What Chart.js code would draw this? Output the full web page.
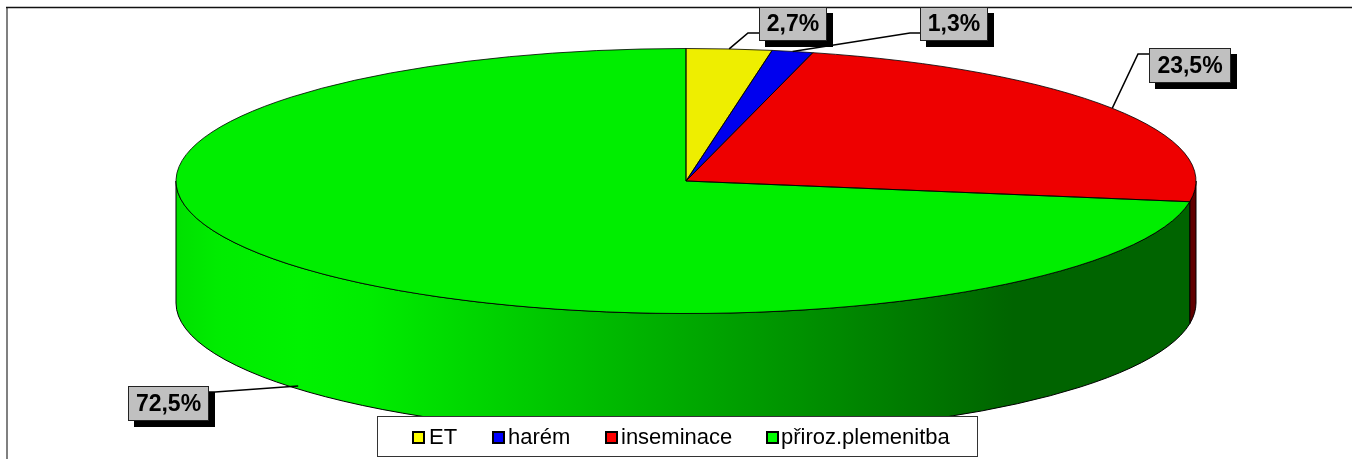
<!DOCTYPE html>
<html lang="cs">
<head>
    <meta charset="UTF-8">
    <title>Graf</title>
    <style>
        html, body { margin: 0; padding: 0; background: #fff; overflow: hidden; }
        canvas { display: block; }
    </style>
    <script src="https://cdn.jsdelivr.net/npm/chart.js"></script>
</head>
<body>
    <canvas id="myChart" width="1352" height="459"></canvas>

    <script>
// data
const categories = ["ET", "harém", "inseminace", "přiroz.plemenitba"];
const values = [2.7, 1.3, 23.5, 72.5];
const sliceColors = ["#EEEE00", "#0000EE", "#EE0000", "#00EE00"];
const legendColors = ["#FFFF00", "#0000FF", "#FF0000", "#00FF00"];

// pie geometry
const radiusX = 510;
const squash = 132.5 / 510;
const depth = 122;

// data label boxes and their leader lines, same order as categories
const labelBoxes = [
    { x: 759, y: 7, w: 68, h: 34 },
    { x: 920, y: 7, w: 68, h: 34 },
    { x: 1149, y: 48, w: 82, h: 35 },
    { x: 128, y: 386, w: 81, h: 35 }
];
const labelElbows = [
    [748, 33],
    [910, 33],
    [1138, 54],
    [215, 392]
];

// legend
const legendBox = { x: 377, y: 416, w: 601, h: 41 };
const legendSwatchX = [412, 492, 605, 766];
const legendTextX = [429, 508, 621, 781];

function wallColor(ctx, index) {
    if (index === 2) return "#600000";
    if (index !== 3) return sliceColors[index];
    const grad = ctx.createLinearGradient(176, 0, 1197, 0);
    grad.addColorStop(0, "#00E000");
    grad.addColorStop(0.04, "#00EC00");
    grad.addColorStop(0.12, "#00F200");
    grad.addColorStop(0.19, "#00EC00");
    grad.addColorStop(0.82, "#006400");
    grad.addColorStop(1, "#006400");
    return grad;
}

// squashes the library's arcs into an ellipse and adds the side wall
const pie3d = {
    id: "pie3d",
    beforeDatasetsDraw(chart) {
        const ctx = chart.ctx;
        const arcs = chart.getDatasetMeta(0).data;
        arcs.forEach((arc, i) => {
            const start = Math.max(arc.startAngle, 0);
            const end = Math.min(arc.endAngle, Math.PI);
            if (end <= start) return;
            const ry = arc.outerRadius * squash;
            ctx.beginPath();
            ctx.ellipse(arc.x, arc.y, arc.outerRadius, ry, 0, start, end);
            ctx.ellipse(arc.x, arc.y + depth, arc.outerRadius, ry, 0, end, start, true);
            ctx.closePath();
            ctx.fillStyle = wallColor(ctx, i);
            ctx.fill();
            ctx.lineWidth = 1;
            ctx.strokeStyle = "#000";
            ctx.stroke();
        });
        const first = arcs[0];
        ctx.save();
        ctx.translate(first.x, first.y);
        ctx.scale(1, squash);
        ctx.translate(-first.x, -first.y);
    },
    afterDatasetsDraw(chart) {
        const ctx = chart.ctx;
        ctx.restore();
        const arcs = chart.getDatasetMeta(0).data;
        arcs.forEach((arc) => {
            const ry = arc.outerRadius * squash;
            ctx.beginPath();
            ctx.moveTo(arc.x, arc.y);
            ctx.ellipse(arc.x, arc.y, arc.outerRadius, ry, 0, arc.startAngle, arc.endAngle);
            ctx.closePath();
            ctx.lineWidth = 1;
            ctx.strokeStyle = "rgba(0,0,0,0.8)";
            ctx.stroke();
        });
    }
};

const labelsAndLegend = {
    id: "labelsAndLegend",
    beforeDraw(chart) {
        const ctx = chart.ctx;
        ctx.fillStyle = "#fff";
        ctx.fillRect(0, 0, chart.width, chart.height);
        // outer frame, only top and left show in the picture
        ctx.strokeStyle = "#808080";
        ctx.lineWidth = 2;
        ctx.beginPath();
        ctx.moveTo(7, 459);
        ctx.lineTo(7, 7);
        ctx.stroke();
        ctx.strokeStyle = "#111";
        ctx.lineWidth = 1.5;
        ctx.beginPath();
        ctx.moveTo(6, 7.5);
        ctx.lineTo(1352, 7.5);
        ctx.stroke();
    },
    afterDraw(chart) {
        const ctx = chart.ctx;
        const arcs = chart.getDatasetMeta(0).data;

        // leader lines start in the middle of each slice's rim
        arcs.forEach((arc, i) => {
            const mid = (arc.startAngle + arc.endAngle) / 2;
            let ax = arc.x + arc.outerRadius * Math.cos(mid);
            let ay = arc.y + arc.outerRadius * squash * Math.sin(mid);
            if (Math.sin(mid) > 0) ay += depth - 3;
            const box = labelBoxes[i];
            ctx.beginPath();
            ctx.moveTo(ax, ay);
            ctx.lineTo(labelElbows[i][0], labelElbows[i][1]);
            ctx.lineTo(box.x + box.w / 2, labelElbows[i][1]);
            ctx.strokeStyle = "#000";
            ctx.lineWidth = 1.6;
            ctx.stroke();
        });

        values.forEach((v, i) => {
            const box = labelBoxes[i];
            ctx.fillStyle = "#000";
            ctx.fillRect(box.x + 6, box.y + 6, box.w, box.h);
            ctx.fillStyle = "#C0C0C0";
            ctx.fillRect(box.x, box.y, box.w, box.h);
            ctx.strokeStyle = "#222";
            ctx.lineWidth = 1;
            ctx.strokeRect(box.x + 0.5, box.y + 0.5, box.w - 1, box.h - 1);
            ctx.fillStyle = "#000";
            ctx.font = "bold 23px 'Liberation Sans'";
            ctx.textAlign = "center";
            ctx.textBaseline = "middle";
            ctx.fillText(v.toFixed(1).replace(".", ",") + "%", box.x + box.w / 2, box.y + box.h / 2 + 1);
        });

        // legend
        ctx.fillStyle = "#fff";
        ctx.fillRect(legendBox.x, legendBox.y, legendBox.w, legendBox.h);
        ctx.strokeStyle = "#333";
        ctx.lineWidth = 1;
        ctx.strokeRect(legendBox.x + 0.5, legendBox.y + 0.5, legendBox.w - 1, legendBox.h - 1);
        categories.forEach((name, i) => {
            ctx.fillStyle = legendColors[i];
            ctx.fillRect(legendSwatchX[i] + 1, 432, 11, 11);
            ctx.strokeStyle = "#000";
            ctx.lineWidth = 2;
            ctx.strokeRect(legendSwatchX[i] + 1, 432, 11, 11);
            ctx.fillStyle = "#000";
            ctx.font = "22px 'Liberation Sans'";
            ctx.textAlign = "left";
            ctx.textBaseline = "middle";
            ctx.fillText(name, legendTextX[i], 438);
        });
    }
};

new Chart(document.getElementById("myChart"), {
    type: "pie",
    data: {
        labels: categories,
        datasets: [{
            data: values,
            backgroundColor: sliceColors,
            borderWidth: 0,
            clip: false,
            radius: radiusX
        }]
    },
    options: {
        responsive: false,
        animation: false,
        events: [],
        layout: { padding: { left: 20, bottom: 97 } },
        plugins: {
            legend: { display: false },
            tooltip: { enabled: false }
        }
    },
    plugins: [pie3d, labelsAndLegend]
});
    </script>
</body>
</html>
